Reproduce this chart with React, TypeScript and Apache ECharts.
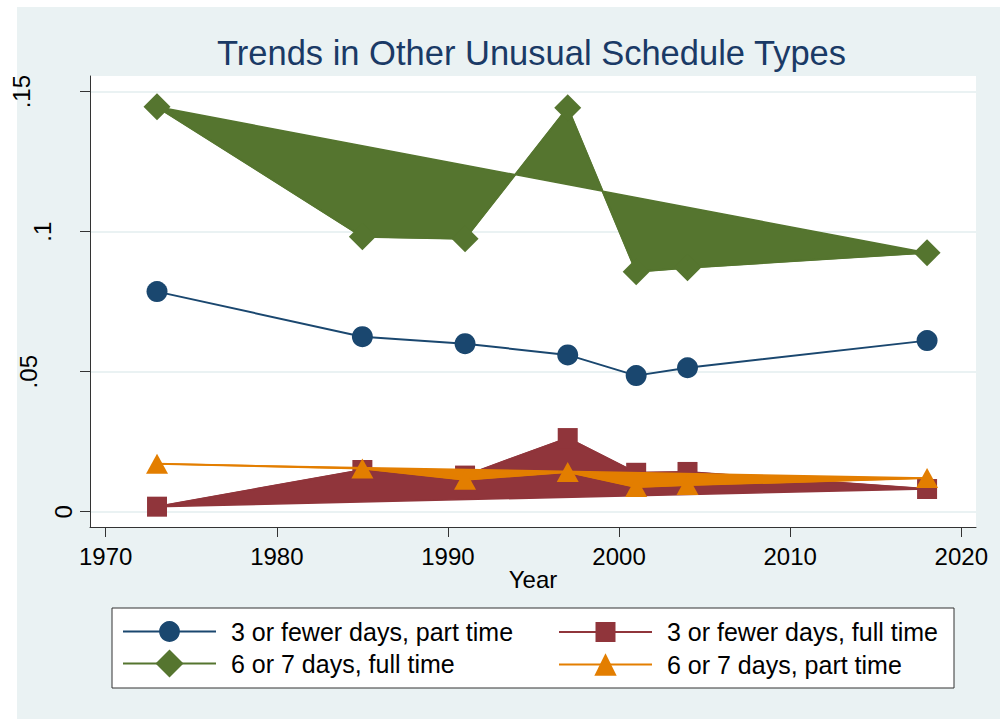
import React, { useEffect, useRef } from "react";
import * as echarts from "echarts";

const years = [1973, 1985, 1991, 1997, 2001, 2004, 2018];
const partTime3 = [0.0786, 0.0625, 0.06, 0.056, 0.0486, 0.0514, 0.0611];
const fullTime3 = [0.0018, 0.0149, 0.0129, 0.0263, 0.0139, 0.0142, 0.0081];
const fullTime67 = [0.1446, 0.0982, 0.0975, 0.1443, 0.0857, 0.0871, 0.0925];
const partTime67 = [0.0171, 0.0154, 0.0114, 0.0142, 0.0088, 0.0095, 0.012];

const seriesNames = [
  "3 or fewer days, part time",
  "3 or fewer days, full time",
  "6 or 7 days, full time",
  "6 or 7 days, part time",
];

const xTicks = [1970, 1980, 1990, 2000, 2010, 2020];
const yTicks = [0, 0.05, 0.1, 0.15];
const yTickLabels = ["0", ".05", ".1", ".15"];

const FONT = "'Liberation Sans', Arial, Helvetica, sans-serif";
const NAVY = "#1A476F";
const TITLE = "#1A3A66";
const MAROON = "#90353B";
const GREEN = "#55752F";
const ORANGE = "#E37E00";
const BG = "#EAF2F3";

function polygonSeries(id: string, vals: number[], color: string, z: number) {
  return {
    type: "custom",
    id,
    name: id,
    coordinateSystem: "cartesian2d",
    data: [[years[0], vals[0]]],
    z,
    silent: true,
    renderItem: (_params: any, api: any) => {
      const pts = years.map((yr, i) => api.coord([yr, vals[i]]));
      return {
        type: "polygon",
        shape: { points: pts },
        style: { fill: color, stroke: color, lineWidth: 1.5 },
      };
    },
  };
}

function lineSeries(
  name: string,
  vals: number[],
  color: string,
  symbol: string,
  symbolSize: any,
  z: number
) {
  return {
    type: "line",
    name,
    data: years.map((yr, i) => [yr, vals[i]]),
    symbol,
    symbolSize,
    showSymbol: true,
    showAllSymbol: true,
    clip: false,
    z,
    itemStyle: { color, opacity: 1 },
    lineStyle: { color, width: 2 },
    emphasis: { disabled: true },
  };
}

function legendFor(name: string, left: number, centerY: number, itemHeight: number) {
  return {
    show: true,
    data: [name],
    left,
    top: centerY - itemHeight / 2,
    orient: "vertical",
    itemWidth: 93,
    itemHeight,
    padding: 0,
    selectedMode: false,
    textStyle: {
      fontSize: 25,
      color: "#000",
      fontFamily: FONT,
      padding: [0, 0, 0, 10],
    },
  };
}

export default function App() {
  const ref = useRef<HTMLDivElement>(null);

  useEffect(() => {
    if (!ref.current) return;
    const chart = echarts.init(ref.current, undefined, { renderer: "svg" });
    const option: any = {
      animation: false,
      backgroundColor: BG,
      textStyle: { fontFamily: FONT },
      title: {
        text: "Trends in Other Unusual Schedule Types",
        left: 217,
        top: 35,
        padding: 0,
        textStyle: {
          fontSize: 34.5,
          fontWeight: "normal",
          color: TITLE,
          fontFamily: FONT,
        },
      },
      grid: {
        left: 90,
        right: 24,
        top: 76,
        bottom: 192,
        show: true,
        backgroundColor: "#fff",
        borderWidth: 0,
      },
      xAxis: {
        type: "value",
        min: 1969.083,
        max: 2020.859,
        name: "Year",
        nameLocation: "middle",
        nameGap: 40,
        nameMoveOverlap: false,
        nameTextStyle: { fontSize: 24, color: "#000", fontFamily: FONT },
        axisLine: { show: true, onZero: false, lineStyle: { color: "#333", width: 1 } },
        axisTick: {
          show: true,
          length: 10,
          customValues: xTicks,
          lineStyle: { color: "#333", width: 1 },
        },
        axisLabel: {
          customValues: xTicks,
          fontSize: 24,
          color: "#000",
          margin: 17,
          fontFamily: FONT,
          formatter: (v: number) => String(Math.round(v)),
        },
        splitLine: { show: false },
      },
      yAxis: {
        type: "value",
        min: -0.00546,
        max: 0.1556,
        axisLine: { show: true, onZero: false, lineStyle: { color: "#333", width: 1 } },
        axisTick: {
          show: true,
          length: 10,
          customValues: yTicks,
          lineStyle: { color: "#333", width: 1 },
        },
        axisLabel: {
          customValues: yTicks,
          rotate: 90,
          margin: 15,
          fontSize: 24,
          color: "#000",
          fontFamily: FONT,
          formatter: (v: number) => {
            const i = yTicks.findIndex((t) => Math.abs(t - v) < 1e-9);
            return i < 0 ? "" : `{s${i}|${yTickLabels[i]}}`;
          },
          rich: {
            s0: { fontSize: 24, color: "#000", fontFamily: FONT, padding: [0, 0, 0, 0] },
            s1: { fontSize: 24, color: "#000", fontFamily: FONT, padding: [0, 0, 35, 0] },
            s2: { fontSize: 24, color: "#000", fontFamily: FONT, padding: [0, 0, 21, 0] },
            s3: { fontSize: 24, color: "#000", fontFamily: FONT, padding: [0, 0, 42, 0] },
          },
        },
        splitLine: { show: true, lineStyle: { color: BG, width: 2 } },
      },
      legend: [
        legendFor(seriesNames[0], 122, 632, 26),
        legendFor(seriesNames[1], 558, 632, 25),
        legendFor(seriesNames[2], 122, 667, 35),
        legendFor(seriesNames[3], 558, 666, 28),
      ],
      graphic: [
        { type: "rect", shape: { x: 0, y: 0, width: 17, height: 719 }, style: { fill: "#fff" }, silent: true },
        { type: "rect", shape: { x: 0, y: 0, width: 1000, height: 7 }, style: { fill: "#fff" }, silent: true },
        {
          type: "rect",
          z: -1,
          shape: { x: 112, y: 608, width: 842, height: 80 },
          style: { fill: "#fff", stroke: "#333", lineWidth: 1 },
          silent: true,
        },
      ],
      series: [
        lineSeries(seriesNames[0], partTime3, NAVY, "circle", 21, 2),
        polygonSeries("fill_fullTime3", fullTime3, MAROON, 3),
        lineSeries(seriesNames[1], fullTime3, MAROON, "rect", 20, 4),
        polygonSeries("fill_fullTime67", fullTime67, GREEN, 5),
        lineSeries(seriesNames[2], fullTime67, GREEN, "diamond", 27, 6),
        polygonSeries("fill_partTime67", partTime67, ORANGE, 7),
        lineSeries(seriesNames[3], partTime67, ORANGE, "triangle", [22, 20], 8),
      ],
    };
    chart.setOption(option);
    return () => chart.dispose();
  }, []);

  return (
    <div
      ref={ref}
      style={{ position: "absolute", left: 0, top: 0, width: 1000, height: 719 }}
    />
  );
}
